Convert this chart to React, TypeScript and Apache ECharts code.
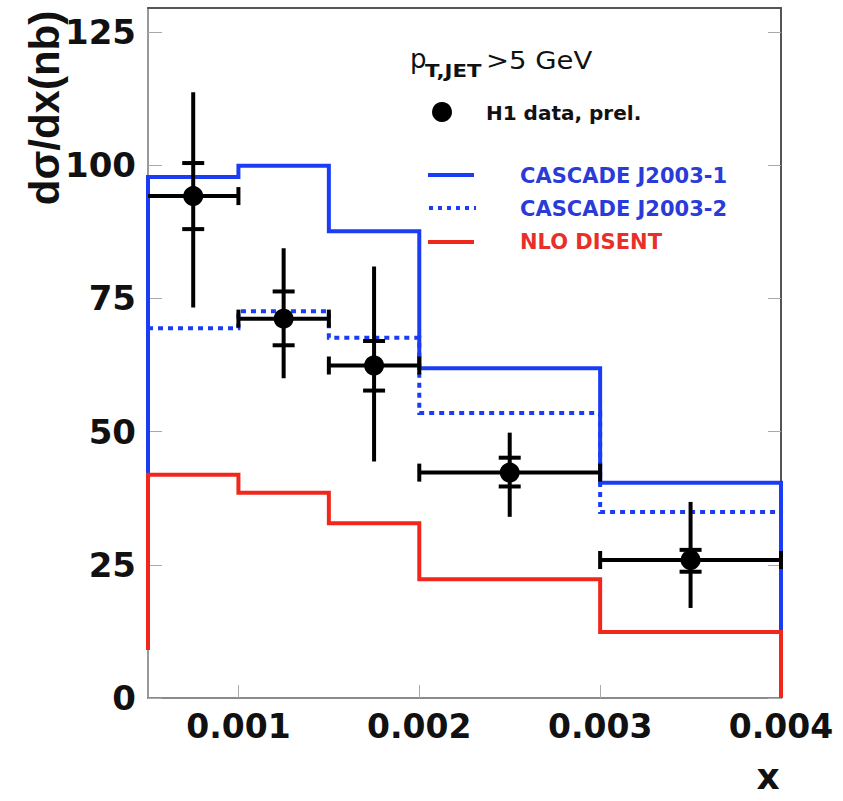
import React, { useEffect, useRef } from "react";
import * as echarts from "echarts";

// ---- data ----
const binEdges = [0.0005, 0.001, 0.0015, 0.002, 0.003, 0.004];
const cascade1 = [97.8, 99.9, 87.6, 61.9, 40.4];
const cascade2 = [69.4, 72.6, 67.6, 53.5, 34.9];
const nloDisent = [41.9, 38.5, 32.8, 22.3, 12.4];
const cascade1Ends = [41.9, 12.4];
const nloEnds = [9, 0];

const dataX = [0.00075, 0.00125, 0.00175, 0.0025, 0.0035];
const dataXLow = [0.0005, 0.001, 0.0015, 0.002, 0.003];
const dataXHigh = [0.001, 0.0015, 0.002, 0.003, 0.004];
const dataY = [94.2, 71.2, 62.4, 42.3, 25.9];
const totLow = [73.3, 60.0, 44.4, 34.0, 16.9];
const totHigh = [113.7, 84.4, 81.0, 49.8, 36.8];
const statLow = [88.0, 66.2, 57.7, 39.7, 23.7];
const statHigh = [100.4, 76.3, 67.0, 45.1, 27.8];

const xTicks = [0.001, 0.002, 0.003, 0.004];
const yTicks = [0, 25, 50, 75, 100, 125];
const X_MIN = 0.0005;
const X_MAX = 0.004;
const Y_MAX = 129.5;

const BLUE = "#1a3cf5";
const RED = "#f0281c";
const FONT = "DejaVu Sans";

function stepPoints(edges: number[], vals: number[], startY: number | null, endY: number | null) {
  const pts: number[][] = [];
  if (startY !== null) pts.push([edges[0], startY]);
  for (let i = 0; i < vals.length; i++) {
    pts.push([edges[i], vals[i]]);
    pts.push([edges[i + 1], vals[i]]);
  }
  if (endY !== null) pts.push([edges[edges.length - 1], endY]);
  return pts;
}

export default function App() {
  const ref = useRef<HTMLDivElement>(null);
  useEffect(() => {
    if (!ref.current) return;
    const chart = echarts.init(ref.current, null, { renderer: "svg" });
    const points = dataX.map((x, i) => [
      x, dataY[i], dataXLow[i], dataXHigh[i], totLow[i], totHigh[i], statLow[i], statHigh[i],
    ]);
    const lineSeries = (name: string, data: number[][], color: string, dash: any, z: number) => ({
      name,
      type: "line",
      data,
      symbol: "none",
      clip: false,
      silent: true,
      z,
      lineStyle: { color, width: 4, type: dash, join: "miter", cap: "butt" },
    });
    chart.setOption({
      animation: false,
      backgroundColor: "#ffffff",
      grid: { left: 148, right: 62, top: 8, bottom: 103, containLabel: false },
      xAxis: [
        {
          type: "value",
          min: X_MIN,
          max: X_MAX,
          position: "bottom",
          axisLine: { show: true, onZero: false, lineStyle: { color: "#8a8a8a", width: 2 } },
          axisTick: { show: true, inside: true, length: 13, customValues: xTicks, lineStyle: { color: "#aaaaaa", width: 1 } },
          axisLabel: {
            customValues: xTicks,
            formatter: (v: number) => v.toFixed(3),
            fontFamily: FONT,
            fontWeight: "bold",
            fontSize: 33,
            color: "#111",
            margin: 12,
          },
          splitLine: { show: false },
        },
        {
          type: "value",
          min: X_MIN,
          max: X_MAX,
          position: "top",
          axisLine: { show: true, onZero: false, lineStyle: { color: "#555", width: 2 } },
          axisTick: { show: false },
          axisLabel: { show: false },
          splitLine: { show: false },
        },
      ],
      yAxis: [
        {
          type: "value",
          min: 0,
          max: Y_MAX,
          position: "left",
          axisLine: { show: true, onZero: false, lineStyle: { color: "#999", width: 2 } },
          axisTick: { show: true, inside: true, length: 14, customValues: yTicks, lineStyle: { color: "#aaaaaa", width: 1 } },
          axisLabel: {
            customValues: yTicks,
            fontFamily: FONT,
            fontWeight: "bold",
            fontSize: 34,
            color: "#111",
            margin: 12,
          },
          splitLine: { show: false },
        },
        {
          type: "value",
          min: 0,
          max: Y_MAX,
          position: "right",
          axisLine: { show: true, onZero: false, lineStyle: { color: "#555", width: 2 } },
          axisTick: { show: true, inside: true, length: 13, customValues: yTicks, lineStyle: { color: "#aaaaaa", width: 1 } },
          axisLabel: { show: false },
          splitLine: { show: false },
        },
      ],
      series: [
        lineSeries("CASCADE J2003-2", stepPoints(binEdges, cascade2, null, null), BLUE, [5, 5], 2),
        lineSeries("CASCADE J2003-1", stepPoints(binEdges, cascade1, cascade1Ends[0], cascade1Ends[1]), BLUE, "solid", 3),
        lineSeries("NLO DISENT", stepPoints(binEdges, nloDisent, nloEnds[0], nloEnds[1]), RED, "solid", 4),
        {
          name: "H1 data, prel.",
          type: "custom",
          z: 10,
          clip: false,
          data: points,
          encode: { x: 0, y: 1 },
          renderItem: (_params: any, api: any) => {
            const x = api.value(0), y = api.value(1);
            const xl = api.value(2), xh = api.value(3);
            const tl = api.value(4), th = api.value(5);
            const sl = api.value(6), sh = api.value(7);
            const c = api.coord([x, y]);
            const pxl = api.coord([xl, y])[0];
            const pxh = api.coord([xh, y])[0];
            const ptl = api.coord([x, tl])[1];
            const pth = api.coord([x, th])[1];
            const psl = api.coord([x, sl])[1];
            const psh = api.coord([x, sh])[1];
            const st = { stroke: "#000", lineWidth: 4 };
            const children: any[] = [
              { type: "line", shape: { x1: pxl, y1: c[1], x2: pxh, y2: c[1] }, style: st },
              { type: "line", shape: { x1: c[0], y1: ptl, x2: c[0], y2: pth }, style: st },
              { type: "line", shape: { x1: c[0] - 11, y1: psl, x2: c[0] + 11, y2: psl }, style: st },
              { type: "line", shape: { x1: c[0] - 11, y1: psh, x2: c[0] + 11, y2: psh }, style: st },
              { type: "line", shape: { x1: pxh, y1: c[1] - 9, x2: pxh, y2: c[1] + 9 }, style: st },
              { type: "circle", shape: { cx: c[0], cy: c[1], r: 10 }, style: { fill: "#000" } },
            ];
            if (xl > X_MIN) {
              children.push({ type: "line", shape: { x1: pxl, y1: c[1] - 9, x2: pxl, y2: c[1] + 9 }, style: st });
            }
            return { type: "group", children };
          },
        },
      ],
      graphic: [
        {
          type: "text",
          x: 44,
          y: 108,
          rotation: Math.PI / 2,
          style: {
            text: "dσ/dx(nb)",
            fontFamily: "Liberation Sans",
            fontWeight: "bold",
            fontSize: 42,
            fill: "#111",
            align: "center",
            verticalAlign: "middle",
          },
        },
        {
          type: "text",
          x: 768,
          y: 776,
          style: { text: "x", fontFamily: FONT, fontWeight: "bold", fontSize: 36, fill: "#111", align: "center", verticalAlign: "middle" },
        },
        {
          type: "text",
          x: 410,
          y: 72,
          style: { text: "p", fontFamily: FONT, fontSize: 26, fill: "#111", align: "left", verticalAlign: "bottom" },
        },
        {
          type: "text",
          x: 425,
          y: 80,
          scaleX: 1.25,
          style: { text: "T,JET", fontFamily: FONT, fontWeight: "bold", fontSize: 17, fill: "#111", align: "left", verticalAlign: "bottom" },
        },
        {
          type: "text",
          x: 486,
          y: 73,
          scaleX: 1.1,
          style: { text: ">5 GeV", fontFamily: FONT, fontSize: 25, fill: "#111", align: "left", verticalAlign: "bottom" },
        },
        { type: "circle", shape: { cx: 442, cy: 112, r: 10 }, style: { fill: "#000" } },
        {
          type: "text",
          x: 486,
          y: 113,
          style: { text: "H1 data, prel.", fontFamily: FONT, fontWeight: "bold", fontSize: 20, fill: "#111", align: "left", verticalAlign: "middle" },
        },
        { type: "line", shape: { x1: 428, y1: 175, x2: 474, y2: 175 }, style: { stroke: BLUE, lineWidth: 4 } },
        { type: "line", shape: { x1: 429, y1: 208, x2: 476, y2: 208 }, style: { stroke: BLUE, lineWidth: 4, lineDash: [4, 5] } },
        { type: "line", shape: { x1: 428, y1: 242, x2: 474, y2: 242 }, style: { stroke: RED, lineWidth: 4 } },
        {
          type: "text",
          x: 520,
          y: 176,
          style: { text: "CASCADE J2003-1", fontFamily: FONT, fontWeight: "bold", fontSize: 21, fill: "#2a3bd8", align: "left", verticalAlign: "middle" },
        },
        {
          type: "text",
          x: 520,
          y: 209,
          style: { text: "CASCADE J2003-2", fontFamily: FONT, fontWeight: "bold", fontSize: 21, fill: "#2a3bd8", align: "left", verticalAlign: "middle" },
        },
        {
          type: "text",
          x: 520,
          y: 242,
          style: { text: "NLO DISENT", fontFamily: FONT, fontWeight: "bold", fontSize: 21, fill: "#e8302a", align: "left", verticalAlign: "middle" },
        },
      ],
    });
    return () => chart.dispose();
  }, []);
  return (
    <div
      ref={ref}
      style={{ position: "fixed", left: 0, top: 0, width: 843, height: 801, background: "#fff" }}
    />
  );
}
